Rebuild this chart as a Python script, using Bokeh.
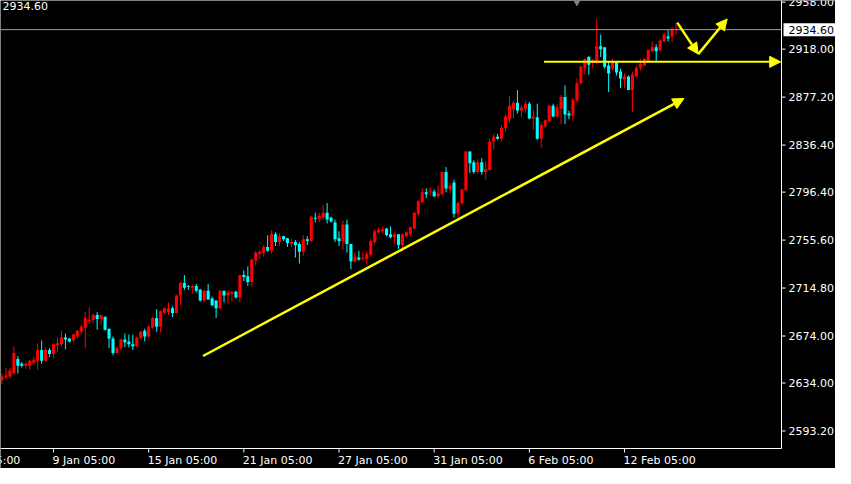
from bokeh.plotting import figure
from bokeh.models import ColumnDataSource, Range1d, Arrow, NormalHead
from bokeh.core.properties import value
from bokeh.embed import file_html
from bokeh.resources import INLINE

# ---- H4 candles (bar index 0 .. 170) ----
opens = [2636.3, 2638.8, 2639.6, 2642.1, 2654.5, 2650.4, 2648.7, 2648.7, 2651.2, 2652.9,
         2662.0, 2652.9, 2662.0, 2658.7, 2666.1, 2666.9, 2672.8, 2671.9, 2670.3, 2673.6,
         2677.7, 2681.0, 2686.8, 2687.7, 2691.8, 2688.5, 2690.2, 2680.2, 2671.9, 2659.5,
         2663.6, 2671.1, 2669.4, 2666.9, 2665.3, 2671.9, 2678.5, 2673.6, 2681.0, 2689.3,
         2681.9, 2693.5, 2694.3, 2697.6, 2693.5, 2708.4, 2719.1, 2716.6, 2715.0, 2716.6,
         2713.3, 2704.2, 2712.5, 2705.9, 2704.2, 2697.6, 2712.5, 2708.4, 2710.0, 2711.7,
         2706.7, 2725.8, 2724.9, 2720.0, 2738.2, 2744.0, 2744.8, 2749.8, 2746.5, 2760.6,
         2753.9, 2758.9, 2757.2, 2752.3, 2753.9, 2752.3, 2745.6, 2756.4, 2754.8, 2774.6,
         2773.8, 2774.6, 2778.8, 2774.6, 2770.5, 2757.2, 2754.8, 2768.9, 2752.3, 2737.4,
         2740.7, 2739.8, 2739.8, 2743.2, 2753.9, 2762.2, 2763.1, 2765.5, 2760.6, 2758.1,
         2760.6, 2751.4, 2758.9, 2760.6, 2765.5, 2778.0, 2787.9, 2796.2, 2796.2, 2797.0,
         2792.9, 2794.5, 2813.6, 2798.7, 2804.5, 2778.0, 2787.1, 2797.9, 2831.0, 2821.9,
         2813.6, 2821.9, 2813.6, 2815.3, 2839.3, 2843.4, 2841.8, 2850.9, 2858.3, 2866.6,
         2872.4, 2865.8, 2867.4, 2871.6, 2859.1, 2860.0, 2841.8, 2852.5, 2856.7, 2869.9,
         2860.8, 2867.4, 2877.4, 2863.3, 2861.6, 2874.1, 2889.0, 2902.2, 2911.3, 2906.4,
         2906.4, 2920.5, 2919.6, 2903.9, 2901.4, 2907.2, 2898.9, 2892.3, 2894.8, 2883.2,
         2894.8, 2902.2, 2903.9, 2908.0, 2916.3, 2919.6, 2917.1, 2924.6, 2928.7, 2928.7,
         2934.5]
highs = [2642.1, 2647.1, 2647.1, 2665.3, 2657.0, 2652.0, 2652.0, 2653.7, 2656.2, 2667.8,
         2670.3, 2664.5, 2663.6, 2667.8, 2672.8, 2678.5, 2676.1, 2671.9, 2676.1, 2679.4,
         2683.5, 2694.3, 2698.4, 2693.5, 2694.3, 2691.8, 2691.0, 2680.2, 2673.6, 2665.3,
         2671.9, 2676.1, 2675.2, 2675.2, 2673.6, 2678.5, 2680.2, 2683.5, 2690.2, 2696.8,
         2695.9, 2698.4, 2702.6, 2699.3, 2709.2, 2720.0, 2725.8, 2717.5, 2717.5, 2718.3,
         2714.2, 2713.3, 2718.3, 2707.5, 2704.2, 2713.3, 2712.5, 2712.5, 2711.7, 2712.5,
         2725.8, 2729.9, 2733.2, 2739.8, 2746.5, 2747.3, 2751.4, 2759.7, 2763.9, 2762.2,
         2761.4, 2758.9, 2757.2, 2756.4, 2755.6, 2753.9, 2759.7, 2758.9, 2776.3, 2778.8,
         2778.8, 2785.4, 2787.1, 2775.5, 2773.0, 2763.1, 2772.2, 2773.0, 2752.3, 2744.8,
         2746.5, 2745.6, 2746.5, 2756.4, 2764.7, 2766.4, 2767.2, 2765.5, 2767.2, 2762.2,
         2760.6, 2761.4, 2763.1, 2767.2, 2779.6, 2789.6, 2799.5, 2799.5, 2800.3, 2798.7,
         2802.0, 2813.6, 2817.7, 2804.5, 2807.0, 2788.7, 2799.5, 2831.0, 2831.0, 2823.5,
         2824.4, 2825.2, 2822.7, 2841.8, 2845.9, 2845.9, 2853.4, 2862.5, 2878.2, 2874.1,
         2883.2, 2870.8, 2874.1, 2873.2, 2866.6, 2871.6, 2855.8, 2858.3, 2870.8, 2871.6,
         2870.8, 2879.0, 2887.3, 2865.8, 2876.6, 2893.1, 2903.9, 2910.5, 2912.2, 2909.7,
         2943.7, 2930.4, 2919.6, 2907.2, 2909.7, 2908.0, 2901.4, 2897.3, 2895.6, 2898.9,
         2903.9, 2909.7, 2910.5, 2918.0, 2924.6, 2922.1, 2926.3, 2932.1, 2934.5, 2937.0,
         2940.3]
lows = [2633.0, 2637.1, 2637.9, 2641.3, 2642.1, 2647.1, 2646.2, 2645.4, 2650.4, 2645.4,
        2650.4, 2652.0, 2656.2, 2655.3, 2660.3, 2665.3, 2662.8, 2668.6, 2668.6, 2671.9,
        2675.2, 2663.6, 2684.3, 2685.2, 2679.4, 2683.5, 2678.5, 2663.6, 2657.8, 2658.7,
        2662.0, 2664.5, 2664.5, 2662.0, 2664.5, 2671.9, 2669.4, 2671.9, 2680.2, 2677.7,
        2676.9, 2692.6, 2691.8, 2690.2, 2693.5, 2700.1, 2713.3, 2713.3, 2710.0, 2710.9,
        2703.4, 2702.6, 2705.1, 2699.3, 2689.3, 2696.8, 2702.6, 2701.7, 2703.4, 2705.9,
        2702.6, 2720.8, 2716.6, 2715.8, 2734.0, 2739.8, 2741.5, 2745.6, 2744.0, 2750.6,
        2750.6, 2754.8, 2749.8, 2749.8, 2740.7, 2735.7, 2742.3, 2751.4, 2754.0, 2770.5,
        2770.5, 2773.0, 2769.7, 2770.5, 2754.0, 2750.6, 2747.3, 2744.8, 2730.7, 2736.5,
        2738.2, 2738.2, 2734.9, 2741.5, 2752.3, 2760.6, 2761.4, 2758.9, 2757.2, 2752.3,
        2748.1, 2745.6, 2758.1, 2758.9, 2764.7, 2776.3, 2787.1, 2791.2, 2792.9, 2792.0,
        2791.2, 2793.7, 2796.2, 2795.4, 2774.6, 2774.6, 2785.4, 2797.9, 2812.8, 2811.9,
        2811.9, 2811.1, 2807.0, 2814.4, 2832.6, 2840.9, 2839.3, 2847.5, 2855.8, 2859.1,
        2863.3, 2860.0, 2864.1, 2858.3, 2849.2, 2840.9, 2834.3, 2850.9, 2855.8, 2860.0,
        2860.0, 2854.2, 2854.2, 2858.3, 2856.7, 2872.4, 2888.2, 2896.4, 2896.4, 2902.2,
        2905.5, 2911.3, 2901.4, 2881.5, 2899.7, 2895.6, 2884.8, 2884.8, 2883.2, 2864.9,
        2893.9, 2899.7, 2903.9, 2907.2, 2915.5, 2908.0, 2916.3, 2924.6, 2924.6, 2923.8,
        2930.4]
closes = [2639.6, 2640.4, 2644.6, 2659.5, 2648.7, 2648.7, 2650.4, 2652.9, 2653.7, 2662.0,
          2652.9, 2662.0, 2658.7, 2666.9, 2667.8, 2672.8, 2671.1, 2669.4, 2675.2, 2678.5,
          2681.9, 2689.3, 2687.7, 2691.8, 2688.5, 2691.8, 2679.4, 2671.9, 2659.5, 2663.6,
          2671.1, 2668.6, 2666.9, 2665.3, 2672.8, 2677.7, 2673.6, 2681.9, 2689.3, 2681.9,
          2695.1, 2697.6, 2697.6, 2693.5, 2708.4, 2719.1, 2715.0, 2715.8, 2716.6, 2712.5,
          2704.2, 2712.5, 2705.1, 2700.1, 2697.6, 2712.5, 2708.4, 2710.9, 2711.7, 2706.7,
          2725.8, 2724.1, 2720.0, 2739.0, 2744.8, 2745.6, 2749.8, 2746.5, 2760.6, 2753.9,
          2758.9, 2756.4, 2753.1, 2753.9, 2751.4, 2745.6, 2756.4, 2754.8, 2775.5, 2773.8,
          2776.3, 2778.8, 2773.0, 2771.3, 2756.4, 2754.8, 2768.9, 2752.3, 2737.4, 2741.5,
          2739.0, 2740.7, 2744.0, 2754.8, 2763.1, 2764.7, 2764.7, 2759.7, 2758.1, 2760.6,
          2751.4, 2760.6, 2762.2, 2766.4, 2778.8, 2788.7, 2796.2, 2794.5, 2797.0, 2792.9,
          2795.4, 2813.6, 2799.5, 2802.0, 2778.0, 2787.1, 2798.7, 2831.0, 2821.0, 2813.6,
          2821.9, 2813.6, 2816.1, 2839.3, 2843.4, 2841.8, 2850.9, 2860.8, 2869.9, 2872.4,
          2865.8, 2868.3, 2871.6, 2859.1, 2860.8, 2841.8, 2853.4, 2857.5, 2869.9, 2860.8,
          2868.3, 2877.4, 2862.5, 2861.6, 2874.9, 2889.0, 2903.1, 2909.7, 2904.7, 2908.9,
          2920.5, 2918.0, 2903.1, 2897.3, 2908.0, 2898.1, 2893.1, 2894.8, 2883.2, 2896.4,
          2902.2, 2905.5, 2909.7, 2917.1, 2919.6, 2916.3, 2925.4, 2930.4, 2927.1, 2934.5,
          2934.6]
bar_index = list(range(len(closes)))

# ---- axis values ----
price_ticks = [2593.2, 2634.0, 2674.0, 2714.8, 2755.6, 2796.4, 2836.4, 2877.2, 2918.0, 2958.0]
date_tick_index = [-11, 13, 37, 61, 85, 109, 133, 157]
date_tick_labels = ["3 Jan 05:00", "9 Jan 05:00", "15 Jan 05:00", "21 Jan 05:00",
                    "27 Jan 05:00", "31 Jan 05:00", "6 Feb 05:00", "12 Feb 05:00"]
current_price = 2934.60
shift_marker = (145, 2958.4)

# ---- hand-drawn yellow annotations (bar index, price) ----
trend_arrow = (50.7, 2657.0, 172.0, 2876.0)
level_arrow = (136.7, 2907.2, 196.4, 2907.2)
zigzag_down = (170.3, 2940.6, 175.6, 2913.8)
zigzag_up = (175.6, 2913.8, 182.9, 2943.7)

# ---- layout (pixels) ----
FIG_W, FIG_H = 835, 468
PLOT_W, PLOT_H = 781, 448          # chart area; the rest is the axis margin
X0, X1 = -0.375, 196.6             # bar-index span of the chart area
Y_LO, Y_HI = 2578.3, 2959.4        # price span of the chart area
bar_px = PLOT_W / (X1 - X0)
unit_px = PLOT_H / (Y_HI - Y_LO)
def dx(px): return px / bar_px
def dy(px): return px / unit_px

BULL = "#FF0000"
BEAR = "#00FFFF"
YEL = "#FFFF00"
AXC = "#FFFFFF"
FONT = "DejaVu Sans"
FS = "11px"

tops = [max(o, c) for o, c in zip(opens, closes)]
bottoms = [min(o, c) for o, c in zip(opens, closes)]
colors = [BULL if c >= o else BEAR for o, c in zip(opens, closes)]
src = ColumnDataSource(dict(x=bar_index, h=highs, l=lows, top=tops, bottom=bottoms, color=colors))

p = figure(width=FIG_W, height=FIG_H,
           x_range=Range1d(X0, X0 + dx(FIG_W)), y_range=Range1d(Y_HI - dy(FIG_H), Y_HI),
           x_axis_location=None, y_axis_location=None,
           toolbar_location=None, output_backend="svg",
           background_fill_color="black", border_fill_color="black",
           outline_line_color=None,
           min_border_left=0, min_border_top=0, min_border_right=0, min_border_bottom=0)
p.xgrid.visible = False
p.ygrid.visible = False

# ---- axis lines, ticks, tick labels ----
p.segment(x0=[X1, X0], y0=[Y_LO, Y_LO], x1=[X1, X1], y1=[Y_HI + dy(2), Y_LO],
          line_color=AXC, line_width=1)
p.segment(x0=[X1] * len(price_ticks), y0=price_ticks,
          x1=[X1 + dx(4)] * len(price_ticks), y1=price_ticks, line_color=AXC, line_width=1)
p.text(x=[X1 + dx(7)] * len(price_ticks), y=price_ticks,
       text=[f"{v:.2f}" for v in price_ticks],
       text_align="left", text_baseline="middle", text_color=AXC,
       text_font=value(FONT), text_font_size=value(FS))

vis_ticks = [t for t in date_tick_index if t > X0]
vis_labels = [l for t, l in zip(date_tick_index, date_tick_labels) if t > X0]
p.segment(x0=vis_ticks, y0=[Y_LO] * len(vis_ticks), x1=vis_ticks,
          y1=[Y_LO - dy(4)] * len(vis_ticks), line_color=AXC, line_width=1)
p.text(x=[t - dx(1) for t in vis_ticks], y=[Y_LO - dy(5)] * len(vis_ticks), text=vis_labels,
       text_align="left", text_baseline="top", text_color=AXC,
       text_font=value(FONT), text_font_size=value(FS))
# first label: its tick lies left of the chart, only its tail shows
cut_t, cut_l = [(t, l) for t, l in zip(date_tick_index, date_tick_labels) if t <= X0][0]
p.text(x=[cut_t - dx(1) + dx(63)], y=[Y_LO - dy(5)], text=[cut_l],
       text_align="right", text_baseline="top", text_color=AXC,
       text_font=value(FONT), text_font_size=value(FS))

# ---- candles ----
p.segment(x0="x", y0="l", x1="x", y1="h", line_color="color", line_width=1, source=src)
p.vbar(x="x", width=0.78, top="top", bottom="bottom", fill_color="color",
       line_color=None, source=src)

# ---- current price line, box and top-left price ----
p.segment(x0=[X0], y0=[current_price], x1=[X1], y1=[current_price],
          line_color="#A0A0A0", line_width=1)
p.quad(left=[X1 + dx(2)], right=[X1 + dx(55)],
       bottom=[current_price - dy(6.5)], top=[current_price + dy(6.5)],
       fill_color="white", line_color=None)
p.text(x=[X1 + dx(7)], y=[current_price], text=[f"{current_price:.2f}"],
       text_align="left", text_baseline="middle", text_color="black",
       text_font=value(FONT), text_font_size=value(FS))
p.text(x=[X0 + dx(2)], y=[Y_HI - dy(1)], text=[f"{current_price:.2f}"],
       text_align="left", text_baseline="top", text_color="white",
       text_font=value(FONT), text_font_size=value(FS))

p.scatter(x=[shift_marker[0]], y=[shift_marker[1]], marker="inverted_triangle",
          size=7, color="#808080")

# ---- yellow drawings ----
for (xa, ya, xb, yb), lw in [(trend_arrow, 2.5), (level_arrow, 2), (zigzag_down, 2.5), (zigzag_up, 2.5)]:
    p.add_layout(Arrow(end=NormalHead(size=11, fill_color=YEL, line_color=YEL, line_width=1),
                       x_start=xa, y_start=ya, x_end=xb, y_end=yb,
                       line_color=YEL, line_width=lw))

open("out.html", "w").write(file_html(p, INLINE))
